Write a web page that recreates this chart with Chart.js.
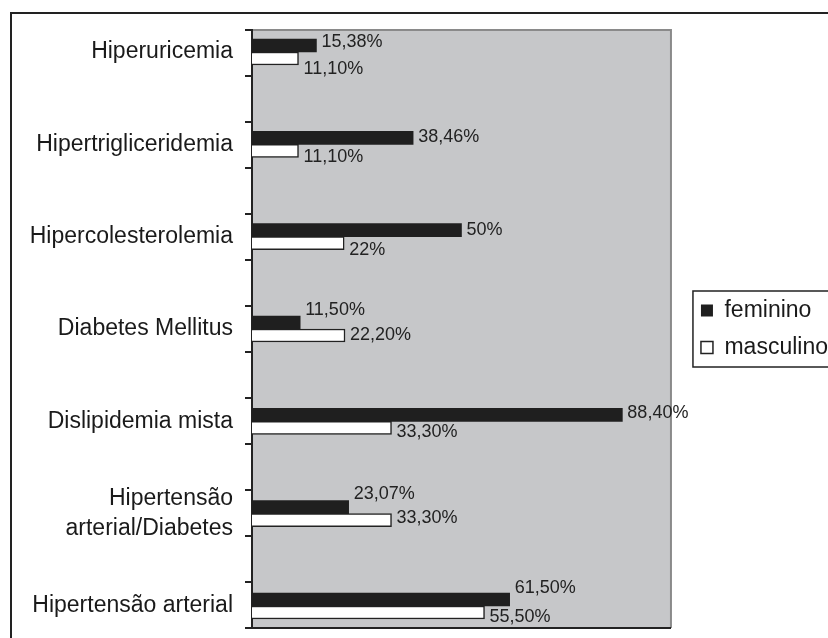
<!DOCTYPE html>
<html>
<head>
<meta charset="utf-8">
<script src="https://cdn.jsdelivr.net/npm/chart.js@4.4.1/dist/chart.umd.min.js"></script>
<style>
  html, body { margin: 0; padding: 0; background: #fff; overflow: hidden; }
  #wrap { position: relative; width: 828px; height: 638px; overflow: hidden; }
  #chart { position: absolute; left: 0; top: 0; }
  #frame { position: absolute; left: 10px; top: 12px; width: 900px; height: 700px; border: 2px solid #222; pointer-events: none; }
</style>
</head>
<body>
<div id="wrap">
  <canvas id="chart" width="838" height="660"></canvas>
  <div id="frame"></div>
</div>
<script>
// Categories, top to bottom
const categories = [
  "Hiperuricemia",
  "Hipertrigliceridemia",
  "Hipercolesterolemia",
  "Diabetes Mellitus",
  "Dislipidemia mista",
  ["Hipertensão", "arterial/Diabetes"],
  "Hipertensão arterial",
];
const feminino = [15.38, 38.46, 50, 11.5, 88.4, 23.07, 61.5];
const masculino = [11.1, 11.1, 22, 22.2, 33.3, 33.3, 55.5];
const femininoText = ["15,38%", "38,46%", "50%", "11,50%", "88,40%", "23,07%", "61,50%"];
const masculinoText = ["11,10%", "11,10%", "22%", "22,20%", "33,30%", "33,30%", "55,50%"];

// vertical nudge of the value labels (px), the way they sit in the original
const femininoNudge = [-3, -1, 0, -12, -2, -13, -11];
const masculinoNudge = [11, 6, 7, 0, 4, -2, 5];

const FONT = "'Liberation Sans', Arial, sans-serif";
Chart.defaults.font.family = FONT;
Chart.defaults.color = "#1a1a1a";

// gray plot area with thin gray top/right edge
const plotBackground = {
  id: "plotBackground",
  beforeDraw(chart) {
    const { ctx, chartArea: a } = chart;
    ctx.save();
    ctx.fillStyle = "#c6c7c9";
    ctx.fillRect(a.left, a.top, a.width, a.height);
    ctx.strokeStyle = "#8a8a8a";
    ctx.lineWidth = 2;
    ctx.beginPath();
    ctx.moveTo(a.left, a.top);
    ctx.lineTo(a.right, a.top);
    ctx.lineTo(a.right, a.bottom);
    ctx.stroke();
    ctx.restore();
  },
};

// value labels at the end of each bar
const barLabels = {
  id: "barLabels",
  afterDatasetsDraw(chart) {
    const ctx = chart.ctx;
    const texts = [femininoText, masculinoText];
    const nudges = [femininoNudge, masculinoNudge];
    ctx.save();
    ctx.font = "18px " + FONT;
    ctx.fillStyle = "#222";
    ctx.textAlign = "left";
    ctx.textBaseline = "middle";
    chart.data.datasets.forEach((ds, d) => {
      chart.getDatasetMeta(d).data.forEach((bar, i) => {
        ctx.fillText(texts[d][i], bar.x + 5, bar.y + nudges[d][i]);
      });
    });
    ctx.restore();
  },
};

// box round the legend
const legendFrame = {
  id: "legendFrame",
  afterDraw(chart) {
    const boxes = chart.legend && chart.legend.legendHitBoxes;
    if (!boxes || !boxes.length) return;
    const ctx = chart.ctx;
    const first = boxes[0];
    const last = boxes[boxes.length - 1];
    const left = first.left - 8;
    const top = first.top - 8;
    const bottom = last.top + last.height + 8;
    ctx.save();
    ctx.strokeStyle = "#222";
    ctx.lineWidth = 1.5;
    ctx.strokeRect(left, top, chart.width + 20 - left, bottom - top);
    ctx.restore();
  },
};

new Chart(document.getElementById("chart"), {
  type: "bar",
  data: {
    datasets: [
      {
        label: "feminino",
        data: feminino.map((v, i) => ({ x: v, y: i })),
        backgroundColor: "#1f1f1f",
        borderColor: "#1f1f1f",
        borderWidth: 0,
        barThickness: 13,
        yAxisID: "y",
      },
      {
        label: "masculino",
        data: masculino.map((v, i) => ({ x: v, y: i })),
        backgroundColor: "#ffffff",
        borderColor: "#222222",
        borderWidth: 1.5,
        barThickness: 13,
        yAxisID: "y",
      },
    ],
  },
  options: {
    indexAxis: "y",
    responsive: false,
    animation: false,
    events: [],
    layout: {
      padding: { top: 30, bottom: 32, left: 0, right: 0 },
    },
    plugins: {
      legend: {
        display: true,
        position: "right",
        maxWidth: 400,
        labels: {
          boxWidth: 12,
          boxHeight: 12,
          padding: 14,
          color: "#1a1a1a",
          font: { size: 23 },
        },
      },
      tooltip: { enabled: false },
    },
    scales: {
      x: {
        type: "linear",
        position: "bottom",
        min: 0,
        max: 100,
        ticks: { display: false },
        grid: { display: false, drawTicks: false },
        border: { display: true, color: "#222", width: 2 },
      },
      // category names
      y: {
        type: "linear",
        position: "left",
        weight: 1,
        offset: false,
        reverse: true,
        min: -0.2383,
        max: 6.2383,
        afterBuildTicks: (axis) => {
          axis.ticks = categories.map((c, i) => ({ value: i }));
        },
        afterFit: (axis) => {
          axis.width = 245;
        },
        ticks: {
          padding: 12,
          color: "#1a1a1a",
          font: { size: 23, lineHeight: 1.3 },
          callback: (value) => categories[value],
        },
        grid: { display: false, drawTicks: false, offset: false },
        border: { display: false },
      },
      // tick marks on the value axis
      yt: {
        type: "linear",
        position: "left",
        weight: 0,
        offset: false,
        min: 0,
        max: 13,
        afterFit: (axis) => {
          axis.width = 7;
        },
        ticks: { display: false, stepSize: 1 },
        grid: {
          display: true,
          offset: false,
          drawOnChartArea: false,
          drawTicks: true,
          tickLength: 7,
          color: "#222",
          lineWidth: 2,
        },
        border: { display: true, color: "#222", width: 2 },
      },
      // gap between plot and legend
      gap: {
        type: "linear",
        axis: "y",
        position: "right",
        weight: 0,
        offset: false,
        afterFit: (axis) => {
          axis.width = 16;
        },
        ticks: { display: false },
        grid: { display: false, drawTicks: false, offset: false },
        border: { display: false },
      },
    },
  },
  plugins: [plotBackground, barLabels, legendFrame],
});
</script>
</body>
</html>
